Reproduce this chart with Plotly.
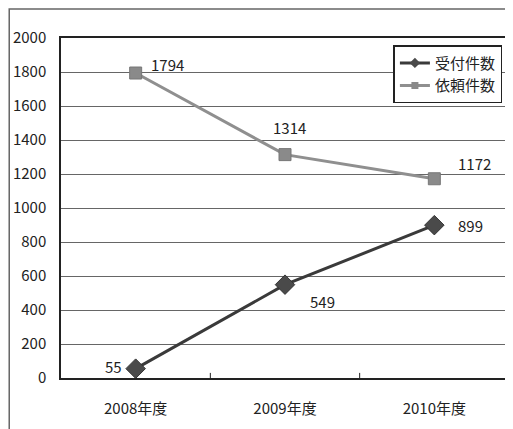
import plotly.graph_objects as go

categories = ["2008年度", "2009年度", "2010年度"]
uketsuke = [55, 549, 899]
irai = [1794, 1314, 1172]
y_ticks = [0, 200, 400, 600, 800, 1000, 1200, 1400, 1600, 1800, 2000]

FONT = "Noto Sans CJK JP, sans-serif"
C_U = "#3a3a3a"
C_I = "#8f8f8f"

fig = go.Figure()
fig.add_trace(go.Scatter(
    x=categories, y=uketsuke, name="受付件数", mode="lines+markers", showlegend=False,
    line=dict(color=C_U, width=3),
    marker=dict(symbol="diamond", size=15, color="#4a4a4a", line=dict(color="#333", width=1)),
))
fig.add_trace(go.Scatter(
    x=categories, y=irai, name="依頼件数", mode="lines+markers", showlegend=False,
    line=dict(color=C_I, width=3),
    marker=dict(symbol="square", size=12, color="#8a8a8a", line=dict(color="#777", width=1)),
))
# legend entries with small symbols
fig.add_trace(go.Scatter(
    x=[None], y=[None], name="受付件数", mode="lines+markers",
    line=dict(color=C_U, width=3),
    marker=dict(symbol="diamond", size=8, color="#4a4a4a"),
))
fig.add_trace(go.Scatter(
    x=[None], y=[None], name="依頼件数", mode="lines+markers",
    line=dict(color=C_I, width=3),
    marker=dict(symbol="square", size=7, color="#8a8a8a"),
))

# data labels
offs_u = [(-12, 2, "right"), (23, -17, "left"), (22, 0, "left")]
offs_i = [(13, 9, "left"), (4, 27, "center"), (22, 15, "left")]
for c, v, (dx, dy, anc) in zip(categories, uketsuke, offs_u):
    fig.add_annotation(x=c, y=v, text=str(v), showarrow=False, xshift=dx, yshift=dy,
                       xanchor=anc, font=dict(family=FONT, size=15, color="#222"))
for c, v, (dx, dy, anc) in zip(categories, irai, offs_i):
    fig.add_annotation(x=c, y=v, text=str(v), showarrow=False, xshift=dx, yshift=dy,
                       xanchor=anc, font=dict(family=FONT, size=15, color="#222"))

L, R, T, B = 53, 2, 30, 51
W, H = 505, 421
PW, PH = W - L - R, H - T - B

# outer frame
fig.add_shape(type="rect", xref="paper", yref="paper",
              x0=-(L - 1) / PW, x1=1.05, y0=-0.3, y1=1 + (T - 1) / PH,
              line=dict(color="#666", width=1.5), layer="below")

fig.update_layout(
    width=W, height=H,
    margin=dict(l=L, r=R, t=T, b=B),
    paper_bgcolor="white", plot_bgcolor="white",
    font=dict(family=FONT, size=15, color="#222"),
    showlegend=True,
    legend=dict(x=0.742, y=0.979, xanchor="left", yanchor="top",
                bordercolor="#222", borderwidth=1.5, bgcolor="white",
                font=dict(family=FONT, size=15), tracegroupgap=0,
                itemwidth=30),
    xaxis=dict(type="category", range=[-0.5, 2.5], showgrid=False,
               showline=True, linecolor="#222", linewidth=1.5, mirror=True,
               ticks="", tickfont=dict(size=15), ticklabelstandoff=16),
    yaxis=dict(range=[0, 2000], tickvals=y_ticks, showgrid=True,
               gridcolor="#666", gridwidth=1, showline=True, linecolor="#222",
               linewidth=1.5, mirror=True, ticks="", zeroline=False,
               tickfont=dict(size=15), ticklabelstandoff=10),
)
# category separator ticks at the bottom
for xv in [0.5, 1.5]:
    fig.add_shape(type="line", xref="x", yref="paper", x0=xv, x1=xv, y0=0, y1=0.015,
                  line=dict(color="#222", width=1))

fig.write_html("out.html")
